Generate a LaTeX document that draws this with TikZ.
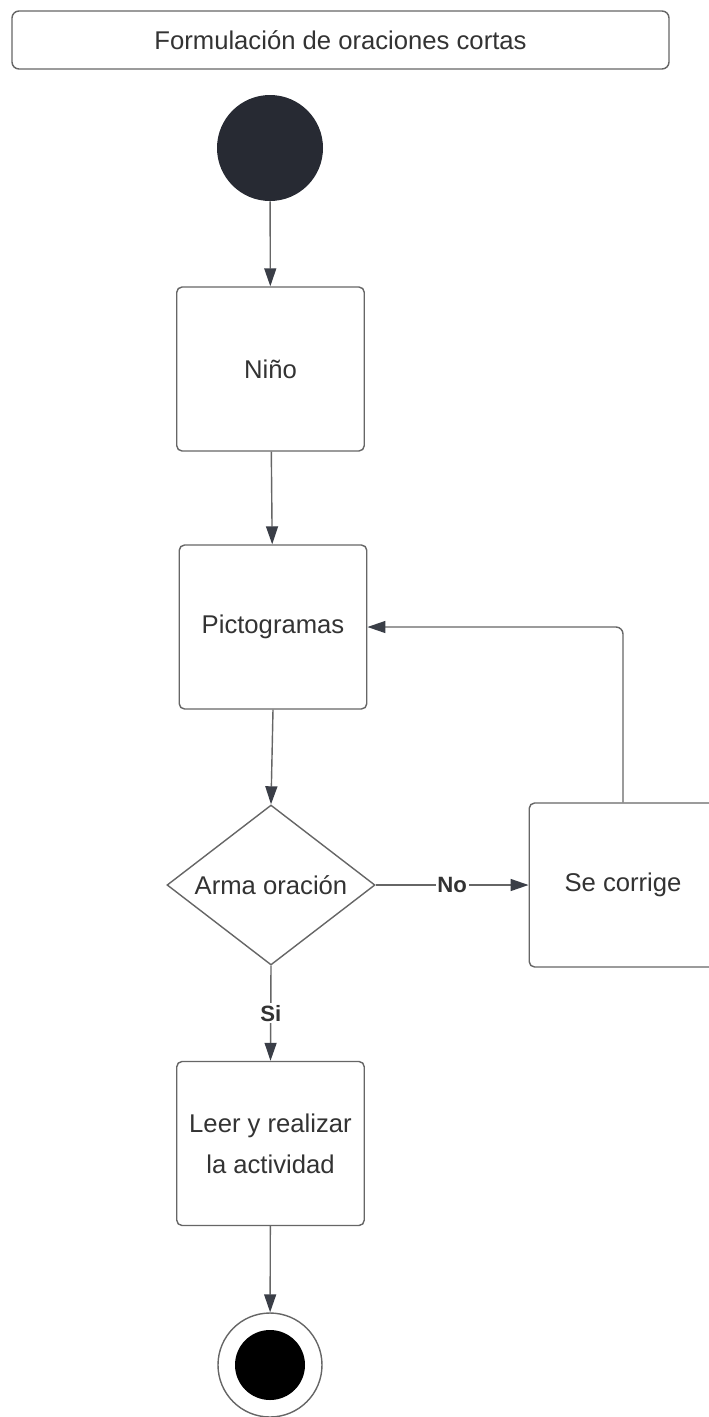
\documentclass[tikz,border=0pt]{standalone}
\usepackage{fontspec}
\setmainfont{Liberation Sans}
\usepackage{tikz}
\usetikzlibrary{arrows.meta,shapes.geometric}
\definecolor{linegray}{HTML}{666666}
\definecolor{headgray}{HTML}{3A3E47}
\definecolor{startfill}{HTML}{272A33}
\definecolor{txtgray}{HTML}{333333}

\begin{document}
\begin{tikzpicture}[
    font=\fontsize{14.6}{23.5}\selectfont, text=txtgray,
    box/.style={draw=linegray, line width=0.8pt, rounded corners=3pt, fill=white,
                minimum width=3.75cm, minimum height=3.28cm, align=center},
    decision/.style={draw=linegray, line width=0.8pt, diamond, aspect=1.3, inner sep=0pt,
                minimum width=4.16cm, minimum height=3.2cm, fill=white},
    flow/.style={draw=linegray, line width=0.8pt, -{Triangle[length=0.36cm, width=0.24cm, fill=headgray, color=headgray]}},
    guard/.style={fill=white, inner sep=1pt, font=\fontsize{12.6}{14}\selectfont\bfseries}
  ]
    \useasboundingbox (0cm,0cm) rectangle (14.16cm,-28.34cm);
    \node[draw=linegray, line width=0.8pt, rounded corners=4pt, minimum width=13.14cm, minimum height=1.16cm] (title) at (6.81cm,-0.80cm) {Formulación de oraciones cortas};
    \node[circle, fill=startfill, minimum size=2.12cm, inner sep=0pt] (start) at (5.40cm,-2.96cm) {};
    \node[box] (nino)     at (5.41cm,-7.38cm)  {Niño};
    \node[box] (picto)    at (5.46cm,-12.54cm) {Pictogramas};
    \node[decision] (arma) at (5.42cm,-17.70cm) {Arma oración};
    \node[box] (corrige)  at (12.46cm,-17.70cm) {Se corrige};
    \node[box] (leer)     at (5.41cm,-22.87cm) {Leer y realizar\\la actividad};
    \node[circle, draw=linegray, line width=0.8pt, minimum size=2.08cm, inner sep=0pt] (fin) at (5.40cm,-27.30cm) {};
    \node[circle, fill=black, minimum size=1.40cm, inner sep=0pt] (findot) at (fin.center) {};

    \draw[flow] (start) -- (nino);
    \draw[flow] (nino) -- (picto);
    \draw[flow] (picto.south) -- (arma.north);
    \draw[flow] (arma.east) -- node[guard] {No} (corrige.west);
    \draw[flow, rounded corners=4pt] (corrige.north) |- (picto.east);
    \draw[flow] (arma.south) -- node[guard] {Si} (leer.north);
    \draw[flow] (leer) -- (fin);
\end{tikzpicture}
\end{document}
